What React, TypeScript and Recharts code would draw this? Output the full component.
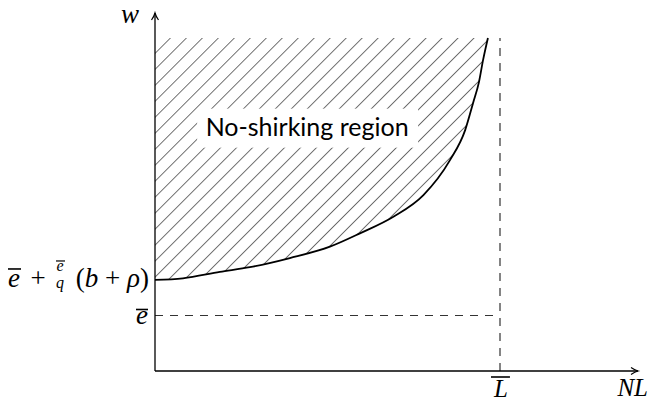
import {
  Area,
  ComposedChart,
  Line,
  ReferenceDot,
  ReferenceLine,
  XAxis,
  YAxis,
} from "recharts";

// curve (NL, w)
const nlValues = [0, 0.81, 1.88, 2.75, 3.91, 5.07, 5.94, 6.91, 7.78, 8.55, 8.99, 9.22, 9.39, 9.51, 9.65];
const wValues = [3.28, 3.34, 3.57, 3.74, 4.07, 4.48, 4.96, 5.56, 6.34, 7.6, 8.68, 9.66, 10.41, 11.21, 12.0];

const L_BAR = 10; // \overline{L}
const E_BAR = 2; // \overline{e}
const W_TOP = 12; // top of the hatched region
const X_MAX = 14;
const Y_MAX = 12.9;

const xTicks = [L_BAR, X_MAX];
const yTicks = [E_BAR, wValues[0], Y_MAX];
const LABEL_AT = { x: 4.41, y: 8.75 };

const data = nlValues.map((nl, i) => ({ nl, w: wValues[i] }));

const mathStyle = { fontFamily: '"Liberation Serif", "DejaVu Serif", serif' };

const XTick = (props: any) => {
  const { x, y, payload } = props;
  if (payload.value === L_BAR) {
    return (
      <g>
        <line x1={x - 9} x2={x + 10} y1={y + 6} y2={y + 6} stroke="#000" strokeWidth={1.6} />
        <text x={x + 1} y={y + 26} textAnchor="middle" style={mathStyle} fontStyle="italic" fontSize={25} fill="#000">
          L
        </text>
      </g>
    );
  }
  return (
    <text x={x + 10} y={y + 25} textAnchor="end" style={mathStyle} fontStyle="italic" fontSize={25} fill="#000">
      NL
    </text>
  );
};

const YTick = (props: any) => {
  const { x, y, payload } = props;
  if (payload.value === E_BAR) {
    return (
      <g>
        <line x1={x - 19} x2={x - 7} y1={y - 6} y2={y - 6} stroke="#000" strokeWidth={1.6} />
        <text x={x - 7} y={y + 9} textAnchor="end" style={mathStyle} fontStyle="italic" fontSize={27} fill="#000">
          e
        </text>
      </g>
    );
  }
  if (payload.value === Y_MAX) {
    return (
      <text x={x - 25} y={y + 10} textAnchor="middle" style={mathStyle} fontStyle="italic" fontSize={27} fill="#000">
        w
      </text>
    );
  }
  // \overline{e} + \frac{\overline{e}}{q}(b+\rho)
  return (
    <g style={mathStyle} fontSize={27} fill="#000">
      <line x1={x - 147} x2={x - 134} y1={y - 11} y2={y - 11} stroke="#000" strokeWidth={1.6} />
      <text x={x - 147} y={y + 7} fontStyle="italic">e</text>
      <text x={x - 117} y={y + 7} textAnchor="middle">+</text>
      <line x1={x - 99} x2={x - 90} y1={y - 19} y2={y - 19} stroke="#000" strokeWidth={1.2} />
      <text x={x - 95} y={y - 9} textAnchor="middle" fontStyle="italic" fontSize={16}>e</text>
      <text x={x - 95} y={y + 8} textAnchor="middle" fontStyle="italic" fontSize={16}>q</text>
      <text x={x - 6} y={y + 7} textAnchor="end">
        (<tspan fontStyle="italic">b</tspan> + <tspan fontStyle="italic">ρ</tspan>)
      </text>
    </g>
  );
};

const ArrowRight = ({ cx, cy }: any) => (
  <path d={`M${cx - 7},${cy - 3.5} Q${cx - 3},${cy - 0.8} ${cx},${cy} Q${cx - 3},${cy + 0.8} ${cx - 7},${cy + 3.5}`} fill="none" stroke="#000" strokeWidth={1.2} />
);
const ArrowUp = ({ cx, cy }: any) => (
  <path d={`M${cx - 3.5},${cy + 7} Q${cx - 0.8},${cy + 3} ${cx},${cy} Q${cx + 0.8},${cy + 3} ${cx + 3.5},${cy + 7}`} fill="none" stroke="#000" strokeWidth={1.2} />
);

const RegionLabel = ({ cx, cy }: any) => (
  <g>
    <rect x={cx - 110} y={cy - 19.5} width={221} height={39} fill="#fff" />
    <text x={cx} y={cy + 8} textAnchor="middle" style={{ fontFamily: "Lato, 'Open Sans', sans-serif" }} fontSize={25} fill="#000">
      No-shirking region
    </text>
  </g>
);

export default function App() {
  return (
    <div style={{ position: "absolute", left: 0, top: 0 }}>
      <ComposedChart width={649} height={402} data={data} margin={{ top: 13, right: 11, left: 0, bottom: 0 }}>
        <defs>
          <pattern id="hatch" patternUnits="userSpaceOnUse" width={11.3} height={10} patternTransform="rotate(45)">
            <line x1={0} y1={0} x2={0} y2={10} stroke="#000" strokeWidth={1.1} />
          </pattern>
        </defs>
        <XAxis
          dataKey="nl"
          type="number"
          domain={[0, X_MAX]}
          ticks={xTicks}
          interval={0}
          height={31}
          tickSize={0}
          tickMargin={0}
          tickLine={false}
          axisLine={{ stroke: "#000", strokeWidth: 1.3 }}
          tick={<XTick />}
        />
        <YAxis
          type="number"
          domain={[0, Y_MAX]}
          ticks={yTicks}
          interval={0}
          width={155}
          tickSize={0}
          tickMargin={0}
          tickLine={false}
          axisLine={{ stroke: "#000", strokeWidth: 1.3 }}
          tick={<YTick />}
        />
        <Area
          dataKey={(d: any) => [d.w, W_TOP]}
          type="monotone"
          stroke="none"
          fill="url(#hatch)"
          fillOpacity={1}
          isAnimationActive={false}
        />
        <ReferenceLine segment={[{ x: L_BAR, y: 0 }, { x: L_BAR, y: W_TOP }]} stroke="#333" strokeWidth={1.2} strokeDasharray="8 7" />
        <ReferenceLine segment={[{ x: 0, y: E_BAR }, { x: L_BAR, y: E_BAR }]} stroke="#333" strokeWidth={1.2} strokeDasharray="8 7" />
        <Line dataKey="w" type="monotone" stroke="#000" strokeWidth={1.8} dot={false} isAnimationActive={false} />
        <ReferenceDot x={LABEL_AT.x} y={LABEL_AT.y} shape={<RegionLabel />} />
        <ReferenceDot x={X_MAX} y={0} shape={<ArrowRight />} />
        <ReferenceDot x={0} y={Y_MAX} shape={<ArrowUp />} />
      </ComposedChart>
    </div>
  );
}
